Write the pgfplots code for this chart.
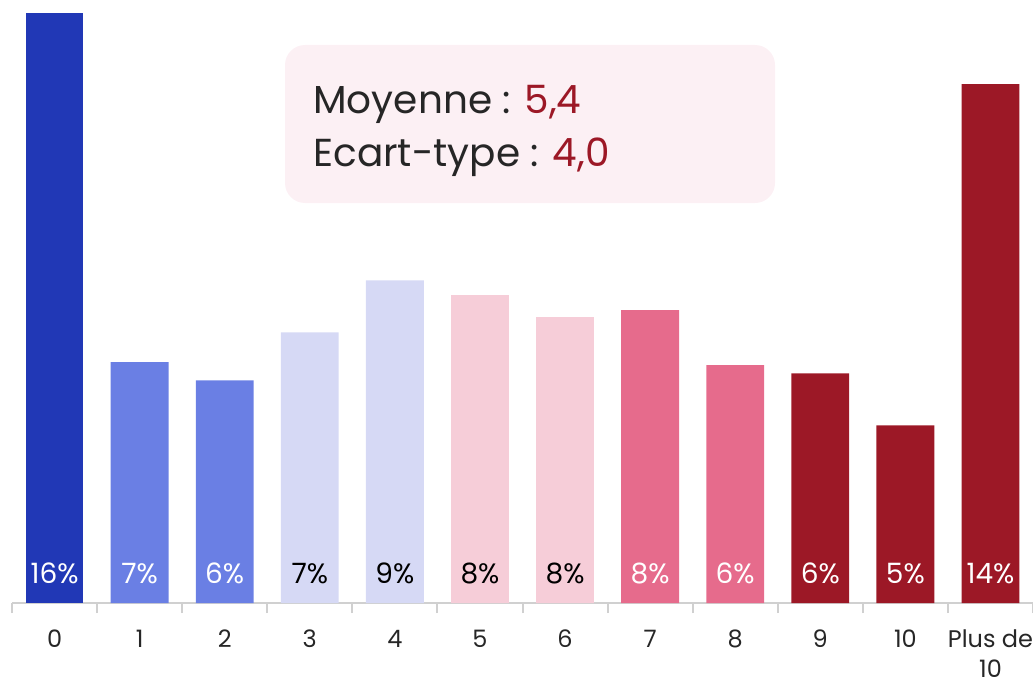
\documentclass[border=0pt]{standalone}
\usepackage{pgfplots}
\pgfplotsset{compat=1.18}
\usepackage{fontspec}
\setmainfont{Poppins}
\definecolor{DarkBlue}{HTML}{2138B6}
\definecolor{MidBlue}{HTML}{6A7FE4}
\definecolor{Lavender}{HTML}{D6D9F5}
\definecolor{LightPink}{HTML}{F6CDD8}
\definecolor{Pink}{HTML}{E66B8C}
\definecolor{DarkRed}{HTML}{9C1826}
\definecolor{BoxFill}{HTML}{FCF0F4}
\definecolor{Ink}{HTML}{262626}
\definecolor{AxisGray}{HTML}{D0D0D0}

\begin{document}
\begin{tikzpicture}
  % 1 px of the reference = 0.5pt
  \useasboundingbox (0pt,0pt) rectangle (516.5pt,341pt);
  \begin{axis}[
      at={(6pt,39.5pt)}, anchor=south west,
      scale only axis,
      width=510.5pt, height=295pt,
      xmin=-0.5, xmax=11.5,
      ymin=0, ymax=16,
      hide y axis,
      axis x line*=bottom,
      x axis line style={-, draw=AxisGray, line width=1pt},
      xtick={0,...,11},
      xticklabels={0,1,2,3,4,5,6,7,8,9,10,{Plus de\\10}},
      major tick length=0pt,
      minor xtick={-0.5,0.5,...,11.5},
      minor tick length=5pt,
      tick align=outside,
      minor x tick style={draw=AxisGray, line width=1pt},
      x tick label style={font=\fontsize{12}{15}\selectfont, text=Ink, align=center, anchor=north, yshift=-10pt},
      every axis plot/.append style={draw=none},
      clip=false,
    ]
    \addplot[ybar, bar width=0.68, fill=DarkBlue] coordinates {(0,16.0)};
    \addplot[ybar, bar width=0.68, fill=MidBlue] coordinates {(1,6.53) (2,6.04)};
    \addplot[ybar, bar width=0.68, fill=Lavender] coordinates {(3,7.34) (4,8.75)};
    \addplot[ybar, bar width=0.68, fill=LightPink] coordinates {(5,8.35) (6,7.75)};
    \addplot[ybar, bar width=0.68, fill=Pink] coordinates {(7,7.94) (8,6.45)};
    \addplot[ybar, bar width=0.68, fill=DarkRed] coordinates {(9,6.23) (10,4.82) (11,14.07)};
    % value labels inside the bars
    \addplot[only marks, mark=none, nodes near coords, point meta=explicit symbolic,
      nodes near coords style={anchor=center, text=white, font=\fontsize{14}{16}\selectfont}]
      coordinates {(0,0.81) [16\%] (1,0.81) [7\%] (2,0.81) [6\%] (7,0.81) [8\%]
                   (8,0.81) [6\%] (9,0.81) [6\%] (10,0.81) [5\%] (11,0.81) [14\%]};
    \addplot[only marks, mark=none, nodes near coords, point meta=explicit symbolic,
      nodes near coords style={anchor=center, text=black, font=\fontsize{14}{16}\selectfont}]
      coordinates {(3,0.81) [7\%] (4,0.81) [9\%] (5,0.81) [8\%] (6,0.81) [8\%]};
  \end{axis}
  \fill[BoxFill, rounded corners=10pt] (142.5pt,239.5pt) rectangle (387.5pt,318.5pt);
  \node[anchor=base west, inner sep=0pt, text=Ink, font=\fontsize{19.5}{24}\selectfont] at (156.5pt,284pt)
    {Moyenne : \textcolor{DarkRed}{5,4}};
  \node[anchor=base west, inner sep=0pt, text=Ink, font=\fontsize{19.5}{24}\selectfont] at (156.5pt,258pt)
    {Ecart-type : \textcolor{DarkRed}{4,0}};
\end{tikzpicture}
\end{document}
